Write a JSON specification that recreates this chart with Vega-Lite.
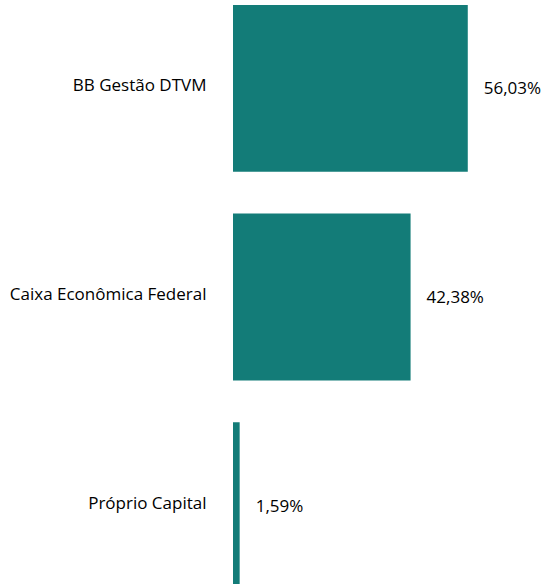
{
  "$schema": "https://vega.github.io/schema/vega-lite/v6.json",
  "autosize": "none",
  "padding": {"left": 233, "top": 0, "right": 0, "bottom": 0},
  "width": 311,
  "height": 594,
  "config": {"view": {"stroke": null}, "font": "Open Sans"},
  "data": {"values": [
    {"gestor": "BB Gestão DTVM", "valor": 56.03, "rotulo": "56,03%"},
    {"gestor": "Caixa Econômica Federal", "valor": 42.38, "rotulo": "42,38%"},
    {"gestor": "Próprio Capital", "valor": 1.59, "rotulo": "1,59%"}
  ]},
  "encoding": {
    "y": {"field": "gestor", "type": "nominal", "sort": null,
      "scale": {"paddingInner": 0.2, "paddingOuter": 0.024},
      "axis": {"title": null, "ticks": false, "domain": false, "labelPadding": 27, "labelFontSize": 17, "labelColor": "#000000", "labelFont": "Open Sans", "labelLimit": 300, "labelOffset": -2}},
    "x": {"field": "valor", "type": "quantitative", "scale": {"domain": [0, 74.22], "nice": false}, "axis": null}
  },
  "layer": [
    {"mark": {"type": "bar", "color": "#137C78"}},
    {"mark": {"type": "text", "align": "left", "baseline": "middle", "dx": 16, "dy": 1, "fontSize": 17, "color": "#000000", "font": "Open Sans"},
     "encoding": {"text": {"field": "rotulo"}}}
  ]
}
